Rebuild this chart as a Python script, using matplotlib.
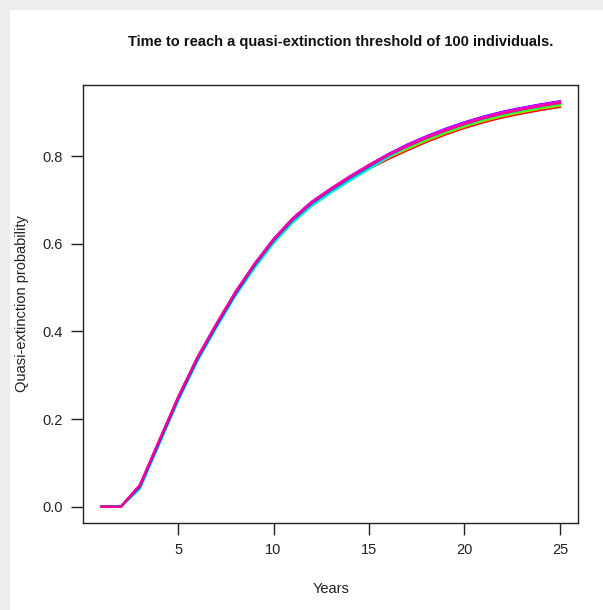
import matplotlib
matplotlib.use("Agg")
import matplotlib.pyplot as plt
from matplotlib.patches import Rectangle

years = list(range(1, 26))

line_red = [0, 0, .042, .145, .245, .335, .412, .485, .547, .602, .649, .687, .717, .745, .771, .793, .813, .832, .849, .864, .877, .888, .897, .905, .912]
line_orange = [0, 0, .046, .147, .247, .337, .414, .487, .549, .604, .651, .689, .719, .747, .773, .796, .816, .835, .852, .867, .880, .891, .900, .908, .915]
line_yellow = [0, 0, .045, .148, .248, .338, .415, .488, .552, .608, .655, .693, .723, .751, .777, .799, .818, .837, .854, .869, .882, .893, .902, .910, .917]
line_green = [0, 0, .047, .149, .249, .339, .416, .489, .553, .610, .657, .695, .725, .753, .779, .799, .817, .836, .853, .868, .881, .892, .901, .909, .916]
line_spring = [0, 0, .043, .144, .244, .334, .411, .484, .549, .607, .654, .692, .722, .750, .776, .799, .820, .839, .856, .871, .884, .895, .904, .912, .919]
line_cyan = [0, 0, .041, .141, .241, .331, .408, .481, .544, .601, .648, .686, .716, .744, .770, .797, .821, .840, .857, .872, .885, .896, .905, .913, .920]
line_azure = [0, 0, .045, .143, .243, .333, .410, .483, .548, .605, .652, .690, .720, .748, .774, .800, .823, .842, .859, .874, .887, .898, .907, .915, .922]
line_blue = [0, 0, .046, .146, .246, .336, .413, .486, .551, .608, .655, .693, .723, .751, .777, .803, .825, .844, .861, .876, .889, .900, .909, .917, .924]
line_violet = [0, 0, .048, .148, .248, .338, .415, .488, .553, .610, .657, .695, .725, .753, .779, .804, .826, .845, .862, .877, .890, .901, .910, .918, .925]
line_magenta = [0, 0, .050, .150, .250, .340, .417, .490, .554, .611, .658, .696, .726, .754, .780, .804, .825, .844, .861, .876, .889, .900, .909, .917, .924]
line_pink = [0, 0, .049, .149, .249, .339, .416, .489, .553, .609, .656, .694, .724, .752, .778, .802, .822, .841, .858, .873, .886, .897, .906, .914, .921]

series = [line_red, line_orange, line_yellow, line_green, line_spring, line_cyan,
          line_azure, line_blue, line_violet, line_magenta, line_pink]
colors = ['#FF0000', '#FF8B00', '#E8FF00', '#5DFF00', '#00FF2E', '#00FFB9',
          '#00B9FF', '#002EFF', '#5D00FF', '#E800FF', '#FF008B']

x_ticks = [5, 10, 15, 20, 25]
y_ticks = [0.0, 0.2, 0.4, 0.6, 0.8]
y_tick_labels = ['0.0', '0.2', '0.4', '0.6', '0.8']

title = 'Time to reach a quasi-extinction threshold of 100 individuals.'

plt.rcParams['font.family'] = ['Liberation Sans', 'DejaVu Sans']

W, H = 603, 610
fig = plt.figure(figsize=(W / 100, H / 100), dpi=100)
fig.patch.set_facecolor('#ededed')
fig.patches.append(Rectangle((10 / W, 0), 1 - 10 / W, 1 - 10 / H, transform=fig.transFigure,
                             facecolor='white', edgecolor='none', zorder=-10))

left, right, top, bottom = 83.3, 578.3, 85, 523
ax = fig.add_axes([left / W, 1 - bottom / H, (right - left) / W, (bottom - top) / H])
ax.set_zorder(5)
ax.set_facecolor('white')

for vals, c in zip(series, colors):
    ax.plot(years, vals, color=c, lw=1.6, solid_joinstyle='round')

ymax = max(max(s) for s in series)
ax.set_xlim(1 - 0.04 * 24, 25 + 0.04 * 24)
ax.set_ylim(-0.04 * ymax, ymax * 1.04)
ax.set_xticks(x_ticks)
ax.set_xticklabels([str(v) for v in x_ticks])
ax.set_yticks(y_ticks)
ax.set_yticklabels(y_tick_labels)

for s in ax.spines.values():
    s.set_color('#222222')
    s.set_linewidth(1.0)
ax.tick_params(axis='both', direction='out', length=8.5, width=1.0, color='#222222',
               labelsize=10.5, labelcolor='#222222')
ax.tick_params(axis='x', pad=6)
ax.tick_params(axis='y', pad=6)

ax.set_xlabel('Years', fontsize=10.5, color='#222222', labelpad=18)
ax.set_ylabel('Quasi-extinction probability', fontsize=10.5, color='#222222', labelpad=10)
fig.text(341 / W, 1 - 42 / H, title, ha='center', va='center',
         fontsize=10.5, fontweight='bold', color='#111111', zorder=10)

fig.savefig('out.png', dpi=100, facecolor=fig.get_facecolor())
